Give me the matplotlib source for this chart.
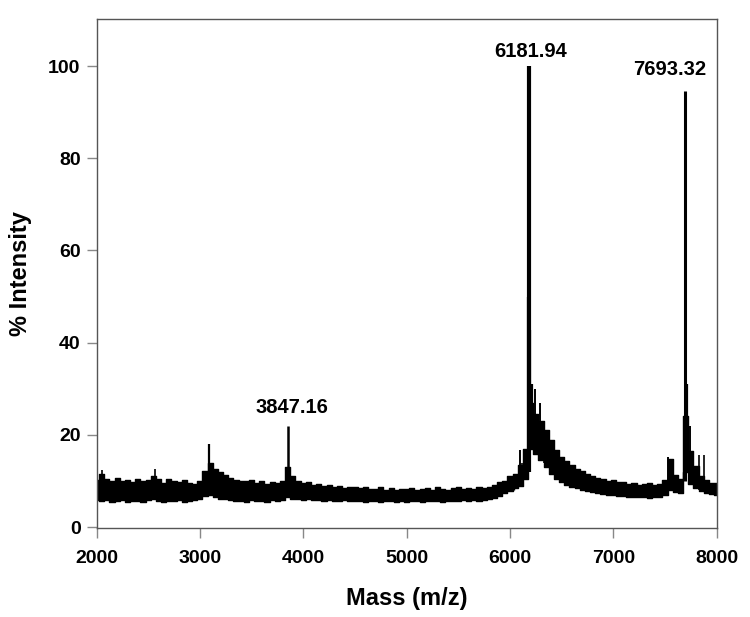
import matplotlib
matplotlib.use('Agg')
import matplotlib.pyplot as plt

# -------------------------------------------------------------------------
# Data (mass in Da, intensity in %)
# -------------------------------------------------------------------------
# noise band: mass, upper edge, lower edge
mass = [2000, 2050, 2100, 2150, 2200, 2250, 2300, 2350, 2400, 2450,
        2500, 2550, 2600, 2650, 2700, 2750, 2800, 2850, 2900, 2950,
        3000, 3050, 3100, 3150, 3200, 3250, 3300, 3350, 3400, 3450,
        3500, 3550, 3600, 3650, 3700, 3750, 3800, 3850, 3900, 3950,
        4000, 4050, 4100, 4150, 4200, 4250, 4300, 4350, 4400, 4450,
        4500, 4550, 4600, 4650, 4700, 4750, 4800, 4850, 4900, 4950,
        5000, 5050, 5100, 5150, 5200, 5250, 5300, 5350, 5400, 5450,
        5500, 5550, 5600, 5650, 5700, 5750, 5800, 5850, 5900, 5950,
        6000, 6050, 6100, 6150, 6200, 6250, 6300, 6350, 6400, 6450,
        6500, 6550, 6600, 6650, 6700, 6750, 6800, 6850, 6900, 6950,
        7000, 7050, 7100, 7150, 7200, 7250, 7300, 7350, 7400, 7450,
        7500, 7550, 7600, 7650, 7700, 7750, 7800, 7850, 7900, 7950,
        8000]
upper = [10.2, 11.6, 10.4, 9.9, 10.6, 10.1, 10.3, 9.7, 10.5, 9.9,
         10.2, 11.0, 10.5, 9.6, 10.4, 10.0, 9.8, 10.2, 9.5, 9.3,
         9.9, 12.2, 14.0, 12.6, 11.9, 11.2, 10.6, 10.3, 10.0, 9.9,
         10.2, 9.6, 9.9, 9.4, 9.8, 9.5, 10.1, 13.0, 11.0, 10.0,
         9.6, 9.8, 9.1, 9.4, 8.9, 9.2, 8.8, 9.0, 8.5, 8.8,
         8.6, 8.4, 8.7, 8.3, 8.2, 8.6, 8.1, 8.4, 8.0, 8.3,
         8.2, 8.5, 8.0, 8.3, 8.4, 8.1, 8.6, 8.3, 8.1, 8.5,
         8.6, 8.3, 8.5, 8.2, 8.7, 8.4, 8.8, 9.1, 9.7, 10.1,
         11.0, 11.6, 13.5, 17.0, 27.0, 24.5, 23.0, 21.0, 19.0, 16.8,
         15.2, 14.3, 13.4, 12.6, 12.1, 11.5, 11.0, 10.7, 10.5, 10.1,
         10.2, 9.8, 9.7, 9.4, 9.6, 9.2, 9.4, 9.6, 9.1, 9.3,
         10.2, 14.8, 11.2, 10.4, 24.0, 16.5, 13.2, 11.0, 10.2, 9.6,
         9.5]
lower = [5.9, 5.6, 5.8, 5.4, 5.7, 5.8, 5.5, 5.7, 5.6, 5.5,
         5.8, 6.0, 5.6, 5.4, 5.7, 5.6, 5.8, 5.5, 5.6, 5.8,
         6.2, 6.8, 7.0, 6.5, 6.2, 6.0, 5.8, 5.6, 5.7, 5.5,
         5.8, 5.6, 5.7, 5.5, 5.8, 5.6, 5.9, 6.5, 6.2, 6.0,
         5.9, 6.0, 5.8, 5.9, 5.7, 5.8, 5.7, 5.6, 5.8, 5.7,
         5.6, 5.7, 5.5, 5.7, 5.6, 5.5, 5.6, 5.7, 5.5, 5.6,
         5.5, 5.7, 5.6, 5.5, 5.6, 5.7, 5.6, 5.5, 5.7, 5.6,
         5.7, 5.8, 5.6, 5.8, 5.7, 5.9, 6.0, 6.3, 6.8, 7.3,
         7.8, 8.4, 9.0, 10.5, 17.0, 15.8, 14.6, 13.0, 11.6, 10.5,
         9.8, 9.2, 8.8, 8.4, 8.1, 7.8, 7.6, 7.4, 7.2, 7.0,
         6.9, 6.8, 6.7, 6.6, 6.5, 6.6, 6.5, 6.4, 6.5, 6.6,
         6.9, 8.0, 7.6, 7.3, 12.0, 9.4, 8.5, 7.9, 7.5, 7.1,
         7.0]

# single spikes rising out of the band: mass, base, tip
spike_mass = [2055, 2565, 3085, 3852, 5905, 6035, 6097, 6120, 6175, 6182,
              6190, 6215, 6240, 6290, 6330, 7527, 7693, 7717, 7745, 7826,
              7874]
spike_base = [8.0, 8.0, 8.0, 8.0, 7.0, 8.0, 9.0, 9.0, 12.0, 12.0,
              18.0, 18.0, 17.0, 15.0, 14.0, 8.0, 10.0, 12.0, 10.0, 8.0,
              8.0]
spike_tip = [12.4, 12.6, 18.0, 22.0, 9.8, 10.5, 16.7, 14.0, 50.0, 100.0,
             42.7, 31.0, 30.0, 27.0, 22.0, 15.2, 94.5, 31.0, 22.0, 15.6,
             15.6]
spike_width = [1.2, 1.2, 1.6, 1.8, 1.0, 1.0, 1.4, 1.2, 1.6, 3.0,
               1.6, 1.6, 1.4, 1.4, 1.2, 1.4, 2.2, 1.6, 1.4, 1.2,
               1.2]

# annotated peaks
peak_mass = [3847.16, 6181.94, 7693.32]
peak_label = ['3847.16', '6181.94', '7693.32']
label_x = [3886, 6197, 7541]
label_y = [24.7, 102.0, 98.0]

# -------------------------------------------------------------------------
# Plot
# -------------------------------------------------------------------------
plt.rcParams['font.family'] = ['Liberation Sans', 'DejaVu Sans']
plt.rcParams['font.weight'] = 'bold'

fig = plt.figure(figsize=(7.5, 6.17), dpi=100)
ax = fig.add_axes([0.1287, 0.1442, 0.8269, 0.825])

ax.fill_between(mass, lower, upper, step='mid', color='black', linewidth=0)
ax.plot(mass, upper, color='black', linewidth=1.0, drawstyle='steps-mid')
ax.plot(mass, lower, color='black', linewidth=1.0, drawstyle='steps-mid')
for i in range(len(spike_mass)):
	ax.vlines(spike_mass[i], spike_base[i], spike_tip[i], color='black',
	          linewidth=spike_width[i])

for i in range(len(peak_mass)):
	ax.text(label_x[i], label_y[i], peak_label[i],
	        ha='center', va='baseline', fontsize=14.5, fontweight='bold')

ax.set_xlim(2000, 8000)
ax.set_ylim(-0.2, 110.2)
ax.set_xticks([2000, 3000, 4000, 5000, 6000, 7000, 8000])
ax.set_yticks([0, 20, 40, 60, 80, 100])
ax.tick_params(direction='out', length=7, width=1, color='#888888',
               labelsize=14)
ax.tick_params(axis='x', pad=9)
ax.tick_params(axis='y', pad=4.5)
for lab in ax.get_xticklabels() + ax.get_yticklabels():
	lab.set_fontweight('bold')
for sp in ax.spines.values():
	sp.set_color('#555555')
	sp.set_linewidth(1.0)

ax.set_xlabel('Mass (m/z)', fontsize=17, fontweight='bold', labelpad=14)
ax.set_ylabel('% Intensity', fontsize=17, fontweight='bold', labelpad=12)

plt.savefig('out.png', dpi=100)
